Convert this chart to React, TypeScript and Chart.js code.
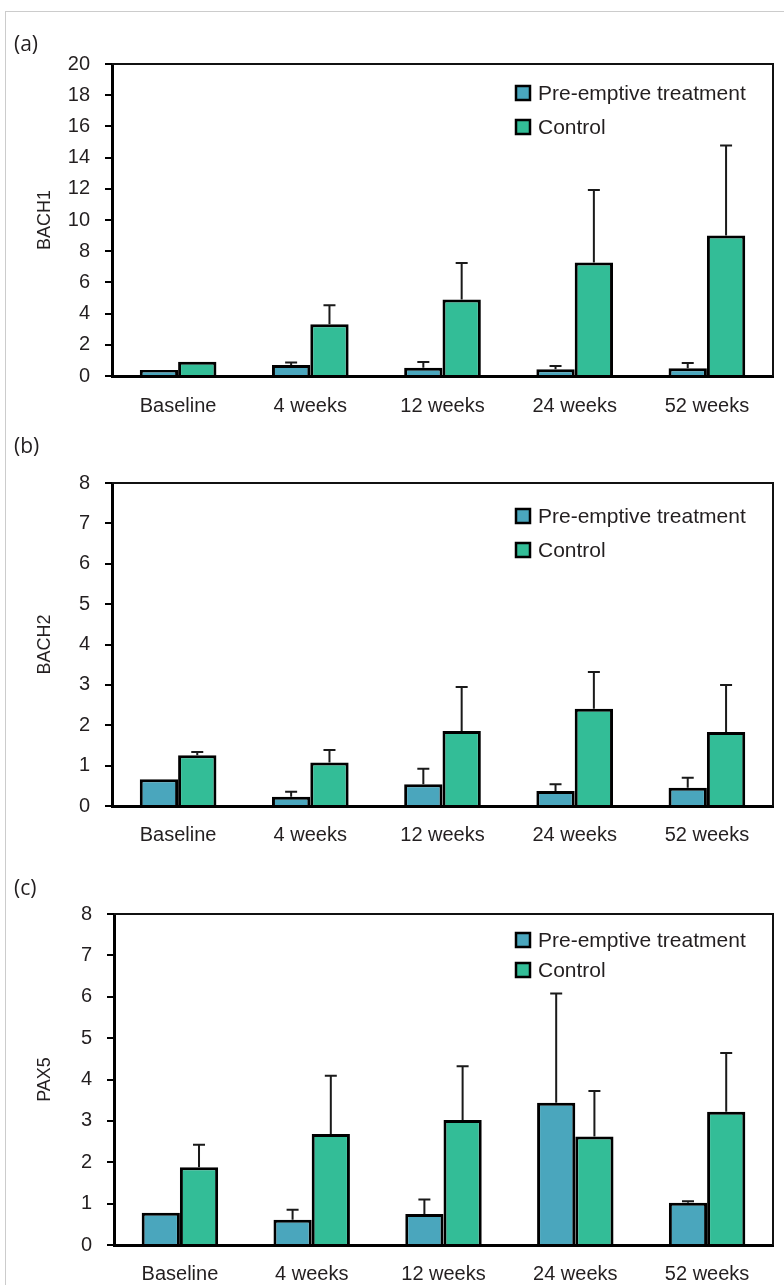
import React, { useEffect, useRef } from "react";
import { Chart, registerables } from "chart.js";

Chart.register(...registerables);

// ---------- data ----------
const categories = ["Baseline", "4 weeks", "12 weeks", "24 weeks", "52 weeks"];
const seriesNames = ["Pre-emptive treatment", "Control"];

const bach1Pre = [0.38, 0.7, 0.53, 0.43, 0.5];
const bach1PreErr = [0, 0.17, 0.37, 0.21, 0.33];
const bach1Ctrl = [0.92, 3.32, 4.9, 7.28, 9.0];
const bach1CtrlErr = [0, 1.22, 2.34, 4.65, 5.77];

const bach2Pre = [0.66, 0.23, 0.54, 0.37, 0.45];
const bach2PreErr = [0, 0.12, 0.38, 0.17, 0.25];
const bach2Ctrl = [1.26, 1.08, 1.86, 2.41, 1.83];
const bach2CtrlErr = [0.08, 0.31, 1.09, 0.91, 1.17];

const pax5Pre = [0.78, 0.61, 0.75, 3.44, 1.02];
const pax5PreErr = [0, 0.24, 0.35, 2.64, 0.04];
const pax5Ctrl = [1.88, 2.68, 3.02, 2.62, 3.22];
const pax5CtrlErr = [0.54, 1.41, 1.3, 1.1, 1.42];

const panelLetters = ["(a)", "(b)", "(c)"];
const yTitles = ["BACH1", "BACH2", "PAX5"];
const yMax = [20, 8, 8];
const yStep = [2, 1, 1];

// ---------- styles ----------
const BLUE = "#4aa6bd";
const GREEN = "#33bd97";
const TEXT = "#231f20";
const SANS = "'Liberation Sans', Arial, sans-serif";

const errorBarPlugin = {
  id: "errorBars",
  afterDatasetsDraw(chart: any) {
    const ctx = chart.ctx;
    const yScale = chart.scales.y;
    ctx.save();
    ctx.strokeStyle = "#1a1a1a";
    ctx.lineWidth = 2;
    chart.data.datasets.forEach((ds: any, i: number) => {
      const meta = chart.getDatasetMeta(i);
      meta.data.forEach((bar: any, j: number) => {
        const err = ds.errors ? ds.errors[j] : 0;
        if (!err) return;
        const yTop = yScale.getPixelForValue(ds.data[j] + err);
        ctx.beginPath();
        ctx.moveTo(bar.x, bar.y);
        ctx.lineTo(bar.x, yTop);
        ctx.moveTo(bar.x - 6, yTop);
        ctx.lineTo(bar.x + 6, yTop);
        ctx.stroke();
      });
    });
    ctx.restore();
  },
};

const framePlugin = {
  id: "frame",
  afterDraw(chart: any) {
    const { ctx, chartArea } = chart;
    ctx.save();
    ctx.strokeStyle = "#111";
    ctx.lineWidth = 2;
    ctx.beginPath();
    ctx.moveTo(chartArea.left, chartArea.top);
    ctx.lineTo(chartArea.right, chartArea.top);
    ctx.lineTo(chartArea.right, chartArea.bottom);
    ctx.stroke();
    ctx.restore();
  },
};

const legendPlugin = {
  id: "boxLegend",
  afterDraw(chart: any, _args: any, opts: any) {
    const { ctx, chartArea } = chart;
    ctx.save();
    ctx.font = `21px ${SANS}`;
    ctx.textBaseline = "middle";
    ctx.textAlign = "left";
    chart.data.datasets.forEach((ds: any, i: number) => {
      const cy = chartArea.top + opts.firstRow + i * opts.rowGap;
      const bx = opts.boxX;
      ctx.fillStyle = ds.backgroundColor;
      ctx.fillRect(bx, cy - 7, 14, 14);
      ctx.strokeStyle = "#000";
      ctx.lineWidth = 2.5;
      ctx.strokeRect(bx, cy - 7, 14, 14);
      ctx.fillStyle = TEXT;
      ctx.fillText(ds.label, opts.textX, cy + 1);
    });
    ctx.restore();
  },
};

type PanelProps = {
  idx: number;
  pre: number[];
  preErr: number[];
  ctrl: number[];
  ctrlErr: number[];
  top: number;
  height: number;
  padTop: number;
  xHeight: number;
  yWidth: number;
  labelPad: number;
  legendFirst: number;
  legendGap: number;
};

function Panel(p: PanelProps) {
  const ref = useRef<HTMLCanvasElement | null>(null);
  useEffect(() => {
    if (!ref.current) return;
    const chart = new Chart(ref.current, {
      type: "bar",
      data: {
        labels: categories,
        datasets: [
          {
            label: seriesNames[0],
            data: p.pre,
            errors: p.preErr,
            backgroundColor: BLUE,
            borderColor: "#000",
            borderWidth: 3,
            borderSkipped: "bottom",
          } as any,
          {
            label: seriesNames[1],
            data: p.ctrl,
            errors: p.ctrlErr,
            backgroundColor: GREEN,
            borderColor: "#000",
            borderWidth: 3,
            borderSkipped: "bottom",
          } as any,
        ],
      },
      options: {
        responsive: false,
        animation: false,
        events: [],
        layout: { padding: { top: p.padTop, right: 11, bottom: 0, left: 0 } },
        datasets: { bar: { categoryPercentage: 0.58, barPercentage: 1 } },
        plugins: {
          legend: { display: false },
          tooltip: { enabled: false },
          boxLegend: { boxX: 516, textX: 538, firstRow: p.legendFirst, rowGap: p.legendGap },
        } as any,
        scales: {
          x: {
            grid: { display: false, drawTicks: false },
            border: { display: true, color: "#000", width: 3 },
            ticks: {
              color: TEXT,
              font: { family: SANS, size: 20 },
              padding: p.labelPad,
              maxRotation: 0,
            },
            afterFit: (s: any) => {
              s.height = p.xHeight;
            },
          },
          y: {
            min: 0,
            max: yMax[p.idx],
            ticks: {
              stepSize: yStep[p.idx],
              color: TEXT,
              font: { family: SANS, size: 20 },
              padding: 15,
            },
            grid: {
              drawOnChartArea: false,
              drawTicks: true,
              tickLength: 7,
              tickColor: "#000",
              tickWidth: 2,
              lineWidth: 2,
              color: "#000",
            },
            border: { display: true, color: "#000", width: 3 },
            title: {
              display: true,
              text: yTitles[p.idx],
              color: TEXT,
              font: { family: SANS, size: 18 },
              padding: { top: 34, bottom: 0 },
            },
            afterFit: (s: any) => {
              s.width = p.yWidth;
            },
          },
        },
      } as any,
      plugins: [errorBarPlugin, framePlugin, legendPlugin],
    });
    return () => chart.destroy();
  }, []);
  return (
    <canvas
      ref={ref}
      width={784}
      height={p.height}
      style={{ position: "absolute", left: 0, top: p.top, width: 784, height: p.height }}
    />
  );
}

const letterTops = [30, 432, 874];

export default function App() {
  return (
    <div
      style={{
        position: "absolute",
        left: 0,
        top: 0,
        width: 784,
        height: 1285,
        overflow: "hidden",
        background: "#fff",
      }}
    >
      <div
        style={{
          position: "absolute",
          left: 5,
          top: 11,
          width: 820,
          height: 1320,
          border: "1.5px solid #cccccc",
        }}
      />
      <Panel
        idx={0}
        pre={bach1Pre}
        preErr={bach1PreErr}
        ctrl={bach1Ctrl}
        ctrlErr={bach1CtrlErr}
        top={0}
        height={425}
        padTop={64}
        xHeight={49}
        yWidth={112}
        labelPad={18}
        legendFirst={29}
        legendGap={34}
      />
      <Panel
        idx={1}
        pre={bach2Pre}
        preErr={bach2PreErr}
        ctrl={bach2Ctrl}
        ctrlErr={bach2CtrlErr}
        top={425}
        height={435}
        padTop={58}
        xHeight={54}
        yWidth={112}
        labelPad={17}
        legendFirst={33}
        legendGap={34}
      />
      <Panel
        idx={2}
        pre={pax5Pre}
        preErr={pax5PreErr}
        ctrl={pax5Ctrl}
        ctrlErr={pax5CtrlErr}
        top={860}
        height={425}
        padTop={54}
        xHeight={40}
        yWidth={114}
        labelPad={17}
        legendFirst={26}
        legendGap={30}
      />
      {panelLetters.map((t, i) => (
        <div
          key={t}
          style={{
            position: "absolute",
            left: 14,
            top: letterTops[i],
            fontFamily: "'Open Sans', sans-serif",
            fontSize: 21,
            lineHeight: "26px",
            color: TEXT,
          }}
        >
          {t}
        </div>
      ))}
    </div>
  );
}
